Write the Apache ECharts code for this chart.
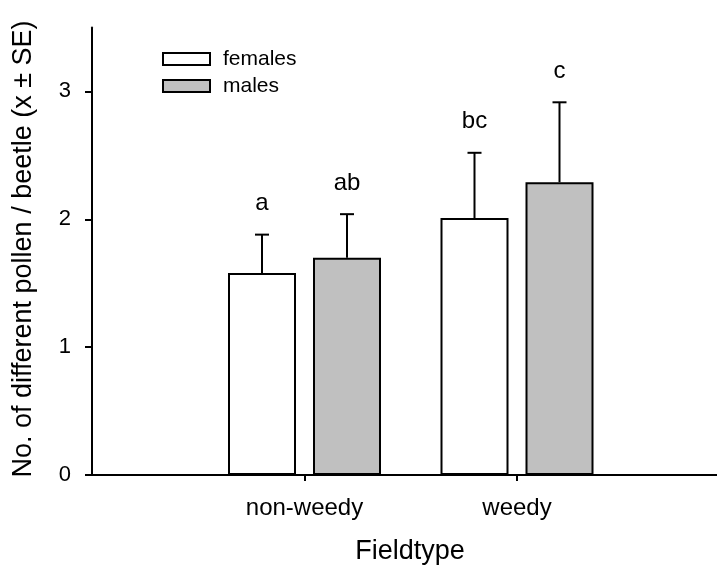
<!DOCTYPE html>
<html>
<head>
<meta charset="utf-8">
<script src="https://cdn.jsdelivr.net/npm/echarts@6/dist/echarts.min.js"></script>
<style>html,body{margin:0;padding:0;background:#fff}#c{width:717px;height:569px}</style>
</head>
<body>
<div id="c"></div>
<script>
const categories = ["", "non-weedy", "weedy", ""];
const femalesMean = [null, 1.58, 2.01, null];
const femalesSE = [null, 0.30, 0.51, null];
const femalesLetters = ["", "a", "bc", ""];
const malesMean = [null, 1.70, 2.29, null];
const malesSE = [null, 0.34, 0.625, null];
const malesLetters = ["", "ab", "c", ""];
const yTicks = [0, 1, 2, 3];

const FONT = "'Liberation Sans', Arial, Helvetica, sans-serif";
const BAR_W = 68, BAR_GAP = 17;

function errData(mean, se, letters) {
  const out = [];
  for (let i = 0; i < categories.length; i++) {
    if (mean[i] == null) continue;
    out.push([i, mean[i], mean[i] + se[i], letters[i]]);
  }
  return out;
}

function errRender(offset) {
  return function (params, api) {
    const c = api.coord([api.value(0), api.value(1)]);
    const t = api.coord([api.value(0), api.value(2)]);
    const x = c[0] + offset;
    const capHalf = 7;
    const style = { stroke: '#000', lineWidth: 2 };
    return {
      type: 'group',
      children: [
        { type: 'line', shape: { x1: x, y1: c[1], x2: x, y2: t[1] }, style },
        { type: 'line', shape: { x1: x - capHalf, y1: t[1], x2: x + capHalf, y2: t[1] }, style },
        { type: 'text', x: x, y: t[1] - 19,
          style: { text: api.value(3), fill: '#000', font: '24px ' + FONT, align: 'center', verticalAlign: 'bottom' } }
      ]
    };
  };
}

const chart = echarts.init(document.getElementById('c'), null, { renderer: 'canvas' });
const off = BAR_W / 2 + BAR_GAP / 2;
chart.setOption({
  animation: false,
  backgroundColor: '#fff',
  textStyle: { fontFamily: FONT },
  grid: { left: 92, top: 27.5, width: 637.5, height: 447.5, outerBoundsMode: 'none', containLabel: false },
  legend: {
    orient: 'vertical', left: 162, top: 48.5, padding: 0, icon: 'rect',
    itemWidth: 47, itemHeight: 12, itemGap: 6,
    textStyle: { fontSize: 21, lineHeight: 21, color: '#000', fontFamily: FONT, padding: [0, 0, 0, 8] },
    data: [
      { name: 'females', itemStyle: { color: '#fff', borderColor: '#000', borderWidth: 2 } },
      { name: 'males', itemStyle: { color: '#c0c0c0', borderColor: '#000', borderWidth: 2 } }
    ]
  },
  xAxis: {
    type: 'category', data: categories, boundaryGap: false,
    axisLine: { lineStyle: { color: '#000', width: 2 } },
    axisTick: { length: 6, lineStyle: { color: '#000', width: 2 }, interval: (i) => i === 1 || i === 2 },
    axisLabel: { color: '#000', fontSize: 24, margin: 21, fontFamily: FONT, interval: (i) => i === 1 || i === 2 },
    splitLine: { show: false }
  },
  yAxis: {
    type: 'value', min: 0, max: 3.5, interval: 1,
    axisLine: { show: true, lineStyle: { color: '#000', width: 2 } },
    axisTick: { show: true, length: 7, lineStyle: { color: '#000', width: 2 }, customValues: yTicks },
    axisLabel: { color: '#000', fontSize: 22, margin: 21, fontFamily: FONT, customValues: yTicks },
    splitLine: { show: false }
  },
  series: [
    { name: 'females', type: 'bar', data: femalesMean, barWidth: BAR_W, barGap: (BAR_GAP / BAR_W * 100) + '%',
      itemStyle: { color: '#fff', borderColor: '#000', borderWidth: 2 } },
    { name: 'males', type: 'bar', data: malesMean, barWidth: BAR_W,
      itemStyle: { color: '#c0c0c0', borderColor: '#000', borderWidth: 2 } },
    { name: 'femalesErr', type: 'custom', data: errData(femalesMean, femalesSE, femalesLetters),
      renderItem: errRender(-off), z: 5, encode: { x: 0, y: [1, 2] } },
    { name: 'malesErr', type: 'custom', data: errData(malesMean, malesSE, malesLetters),
      renderItem: errRender(off), z: 5, encode: { x: 0, y: [1, 2] } }
  ],
  graphic: [
    { type: 'text', x: 24, y: 249, rotation: Math.PI / 2,
      style: { text: 'No. of different pollen / beetle (x ± SE)', font: '27px ' + FONT, fill: '#000', align: 'center', verticalAlign: 'middle' } },
    { type: 'text', x: 410, y: 552,
      style: { text: 'Fieldtype', font: '27px ' + FONT, fill: '#000', align: 'center', verticalAlign: 'middle' } }
  ]
});
</script>
</body>
</html>
